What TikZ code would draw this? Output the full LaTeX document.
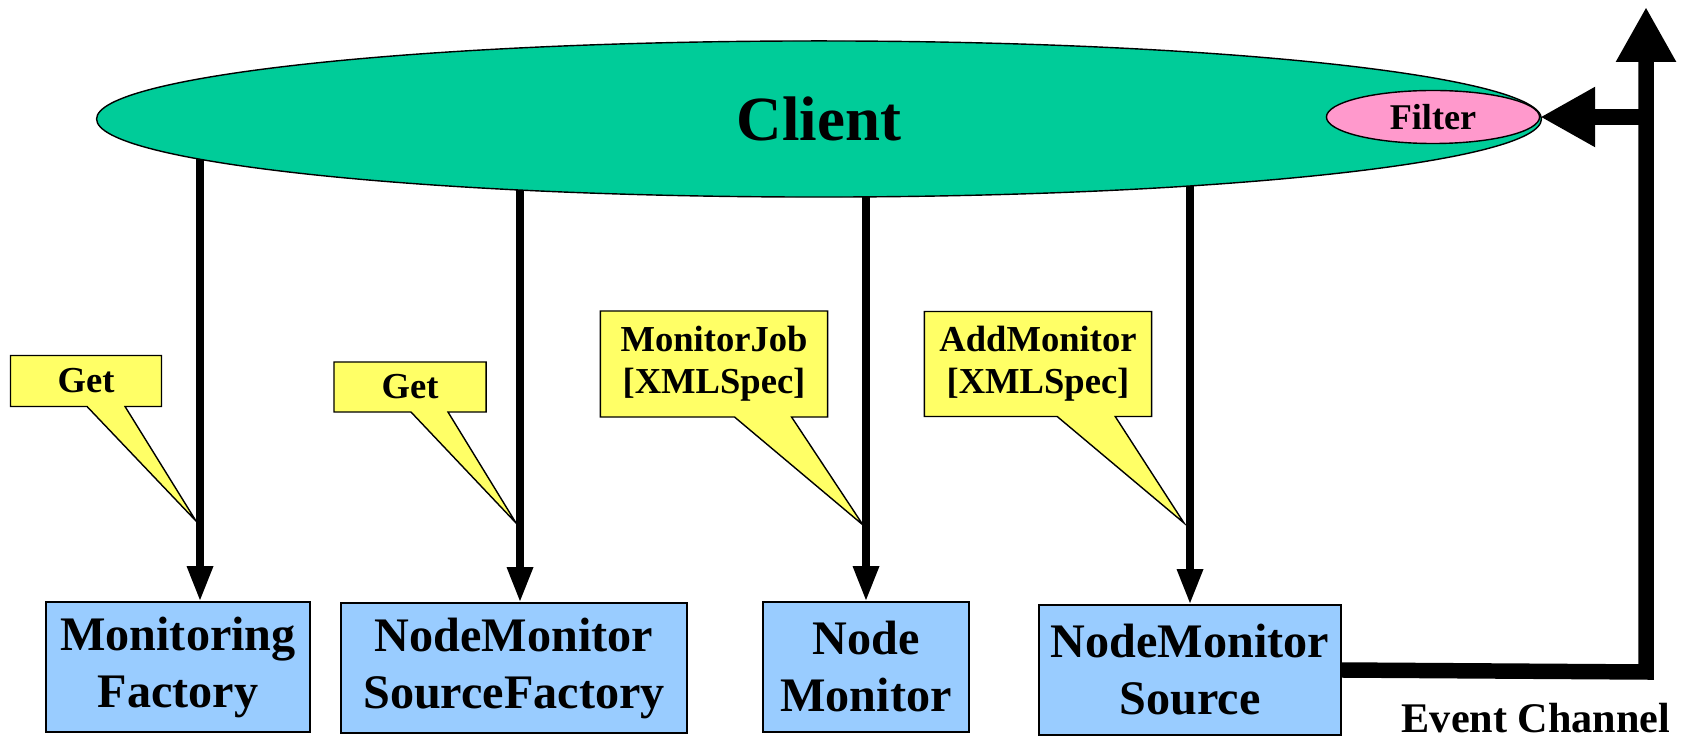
\documentclass[tikz,border=0pt]{standalone}
\usepackage{fontspec}
\setmainfont{Liberation Serif}
\usetikzlibrary{arrows.meta, shapes.geometric, shapes.callouts, backgrounds}
\definecolor{client_green}{HTML}{00CC99}
\definecolor{filter_pink}{HTML}{FF99CC}
\definecolor{box_blue}{HTML}{99CCFF}
\definecolor{note_yellow}{HTML}{FFFF66}

\begin{document}
\begin{tikzpicture}[x=0.01cm, y=-0.01cm, every node/.style={font=\bfseries},
    component/.style={draw, fill=box_blue, minimum height=1.30cm, align=center, inner sep=0pt,
      font=\fontsize{13.7}{16.2}\selectfont\bfseries},
    note/.style={rectangle callout, draw, fill=note_yellow, align=center, inner sep=0pt,
      font=\fontsize{10.4}{12}\selectfont\bfseries},
    call/.style={line width=2.1pt, -{Triangle[length=10pt, width=7pt]}},
    channel/.style={line width=4.4pt, line join=miter, -{Triangle[length=15.6pt, width=16pt]}}]

    \useasboundingbox (0,0) rectangle (1688,740);

    % Draw the client with its filter
    \node[ellipse, draw, fill=client_green, minimum width=14.44cm, minimum height=1.56cm, inner sep=0pt,
      font=\fontsize{17.9}{20}\selectfont\bfseries] (client) at (819,119) {Client};
    \node[ellipse, draw, fill=filter_pink, minimum width=2.13cm, minimum height=0.53cm, inner sep=0pt,
      font=\fontsize{10.3}{12}\selectfont\bfseries] (filter) at (1433,117) {Filter};

    % Draw the four components
    \node[component, minimum width=2.64cm] (mfact) at (178,667) {Monitoring\\Factory};
    \node[component, minimum width=3.46cm] (srcfact) at (514,668) {NodeMonitor\\SourceFactory};
    \node[component, minimum width=2.06cm] (nmon) at (866,667) {Node\\Monitor};
    \node[component, minimum width=3.02cm] (nmsrc) at (1190,670) {NodeMonitor\\Source};

    % Draw the calls from the client
    \coordinate (in1) at ([xshift=0.22cm]mfact.north);
    \coordinate (in2) at ([xshift=0.06cm]srcfact.north);
    \begin{scope}[on background layer]
      \draw[call] (in1 |- client.center) -- (in1);
      \draw[call] (in2 |- client.center) -- (in2);
      \draw[call] (client.center -| nmon.north) -- (nmon.north);
      \draw[call] (client.center -| nmsrc.north) -- (nmsrc.north);
    \end{scope}

    % Draw the call labels
    \node[note, minimum width=1.51cm, minimum height=0.51cm, callout pointer width=0.38cm,
      callout absolute pointer={(196,521)}] (get1) at (86,381) {Get};
    \node[note, minimum width=1.52cm, minimum height=0.50cm, callout pointer width=0.37cm,
      callout absolute pointer={(516,523)}] (get2) at (410,387) {Get};
    \node[note, minimum width=2.27cm, minimum height=1.06cm, callout pointer width=0.57cm,
      callout absolute pointer={(863,525)}] (job) at (714,364) {MonitorJob\\{}[XMLSpec]};
    \node[note, minimum width=2.27cm, minimum height=1.05cm, callout pointer width=0.58cm,
      callout absolute pointer={(1184,523)}] (add) at (1038,364) {AddMonitor\\{}[XMLSpec]};

    % Draw the event channel back to the filter
    \coordinate (chan) at (1646,672);
    \coordinate (chantop) at (1646,7);
    \draw[channel] (nmsrc.east) -- (chan) -- (chantop);
    \draw[channel] (chan |- filter.east) -- (filter.east);
    \node[font=\fontsize{12}{14}\selectfont\bfseries] (chlabel) at (1536,718) {Event Channel};

\end{tikzpicture}
\end{document}
